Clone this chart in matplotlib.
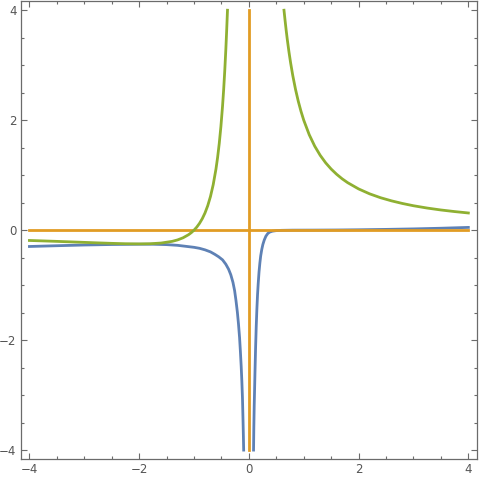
import numpy as np
import matplotlib
matplotlib.use("Agg")
import matplotlib.pyplot as plt
from matplotlib.ticker import MultipleLocator

# blue curve, two branches either side of x = 0
blue_left_x = [-4.0, -3.5, -3.0, -2.5, -2.0, -1.75, -1.5, -1.3, -1.15, -1.0, -0.9, -0.8,
               -0.7, -0.62, -0.55, -0.48, -0.42, -0.37, -0.33, -0.29, -0.26, -0.235,
               -0.21, -0.19, -0.17, -0.155, -0.14, -0.128, -0.117, -0.107, -0.1, -0.095]
blue_left_y = [-0.297, -0.283, -0.270, -0.261, -0.256, -0.256, -0.263, -0.276, -0.294,
               -0.312, -0.330, -0.358, -0.395, -0.44, -0.485, -0.54, -0.62, -0.71, -0.81,
               -0.95, -1.10, -1.28, -1.49, -1.70, -1.95, -2.20, -2.48, -2.75, -3.05,
               -3.45, -3.75, -4.0]
blue_right_x = [0.085, 0.09, 0.097, 0.104, 0.112, 0.122, 0.134, 0.146, 0.158, 0.17, 0.185,
                0.20, 0.215, 0.235, 0.255, 0.28, 0.31, 0.345, 0.38, 0.43, 0.5, 0.6, 0.8,
                1.2, 1.6, 2.0, 2.5, 3.0, 3.5, 4.0]
blue_right_y = [-4.0, -3.6, -3.2, -2.9, -2.55, -2.15, -1.75, -1.43, -1.17, -0.97, -0.76,
                -0.6, -0.47, -0.35, -0.26, -0.18, -0.11, -0.06, -0.035, -0.018, -0.008,
                -0.003, 0.0, 0.001, 0.003, 0.007, 0.014, 0.023, 0.035, 0.05]

# orange: horizontal and vertical segments
orange_h_x = [-4, 4]
orange_h_y = [0, 0]
orange_v_x = [0, 0]
orange_v_y = [-4, 4]

# green curve
green_left_x = [-4.0, -3.75, -3.5, -3.25, -3.0, -2.75, -2.5, -2.25, -2.0, -1.8, -1.6, -1.4,
                -1.3, -1.2, -1.1, -1.05, -1.0, -0.95, -0.9, -0.85, -0.8, -0.75, -0.7,
                -0.65, -0.6, -0.57, -0.54, -0.51, -0.48, -0.46, -0.44, -0.42, -0.405, -0.39]
green_left_y = [-0.1875, -0.1956, -0.2041, -0.2130, -0.2222, -0.2314, -0.24, -0.2469, -0.25,
                -0.2469, -0.2344, -0.2041, -0.1775, -0.1389, -0.0826, -0.0454, 0.0, 0.0554,
                0.1235, 0.2076, 0.3125, 0.4444, 0.6122, 0.8284, 1.1111, 1.3235, 1.5775,
                1.8839, 2.2569, 2.552, 2.8926, 3.288, 3.6275, 4.0]
green_right_x = [0.64, 0.66, 0.68, 0.7, 0.73, 0.76, 0.8, 0.85, 0.9, 0.95, 1.0, 1.1, 1.2,
                 1.3, 1.4, 1.5, 1.6, 1.7, 1.8, 2.0, 2.2, 2.4, 2.6, 2.8, 3.0, 3.25, 3.5,
                 3.75, 4.0]
green_right_y = [4.0, 3.811, 3.633, 3.469, 3.246, 3.047, 2.8125, 2.561, 2.346, 2.161, 2.0,
                 1.736, 1.528, 1.361, 1.224, 1.111, 1.016, 0.934, 0.864, 0.75, 0.661, 0.590,
                 0.533, 0.485, 0.444, 0.402, 0.367, 0.338, 0.3125]

BLUE = "#5E81B5"
ORANGE = "#E19C24"
GREEN = "#8FB032"
FRAME = "#6b6b6b"
LW = 2.0

fig = plt.figure(figsize=(4.8, 4.8), dpi=100)
ax = fig.add_axes([0.043, 0.044, 0.951, 0.953])

style = dict(lw=LW, solid_joinstyle="round")
ax.plot(blue_left_x, blue_left_y, color=BLUE, **style)
ax.plot(blue_right_x, blue_right_y, color=BLUE, **style)
ax.plot(orange_h_x, orange_h_y, color=ORANGE, **style)
ax.plot(orange_v_x, orange_v_y, color=ORANGE, **style)
ax.plot(green_left_x, green_left_y, color=GREEN, **style)
ax.plot(green_right_x, green_right_y, color=GREEN, **style)

ax.set_xlim(-4.16, 4.16)
ax.set_ylim(-4.16, 4.16)

for a in (ax.xaxis, ax.yaxis):
    a.set_major_locator(MultipleLocator(2))
    a.set_minor_locator(MultipleLocator(0.5))

ax.tick_params(which="both", direction="in", top=True, right=True,
               color=FRAME, labelcolor="#555555", labelsize=8.5, width=0.8)
ax.tick_params(which="major", length=4.5, pad=3)
ax.tick_params(which="minor", length=2.5)

for s in ax.spines.values():
    s.set_color(FRAME)
    s.set_linewidth(0.9)

fig.savefig("out.png", dpi=100, facecolor="white")
plt.close(fig)
